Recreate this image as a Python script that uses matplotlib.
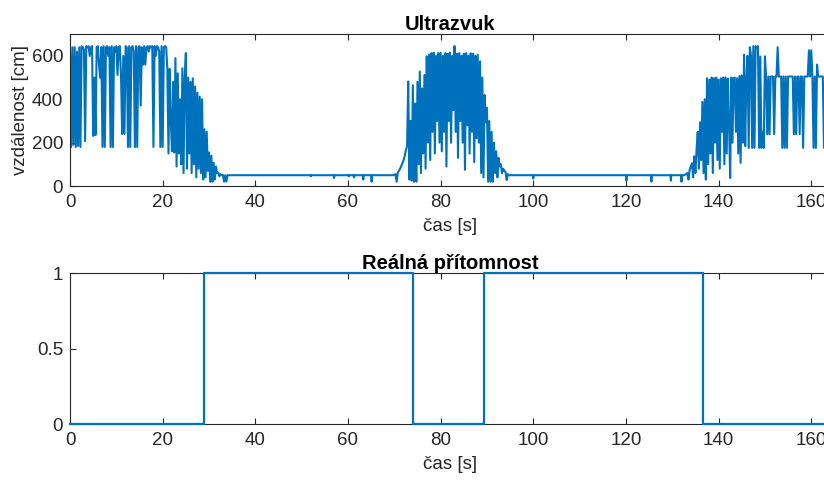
import matplotlib
matplotlib.use("Agg")
import matplotlib.pyplot as plt
import numpy as np

plt.rcParams["font.family"] = ["Liberation Sans", "DejaVu Sans"]

# ------------------------------------------------------------------------------------------------------------------
# ultrazvuk - noisy parts sampled every 0.25 s, flat parts as (t, v) points
step = 0.25

seg_a_start = 0.0
seg_a = [
    620, 180, 640, 190,  640, 180, 620, 185,  640, 180, 645, 640,  630, 207, 645, 640,
    645, 600, 640, 645,  231, 500, 235, 640,  645, 560, 500, 640,  180, 645, 180, 640,
    645, 600, 640, 180,  645, 180, 640, 620,  645, 512, 640, 645,  512, 240, 600, 240,
    645, 640, 180, 645,  180, 640, 645, 620,  180, 645, 180, 640,  645, 371, 640, 560,
    645, 560, 640, 645,  620, 645, 640, 645,  180, 645, 600, 645,  640, 620, 180, 645,
    180, 640, 645, 640,  543, 150, 540, 300,  160, 480, 155, 590,  90, 520, 150, 400,
    100, 543, 60, 500,   613, 80, 500, 150,   480, 60, 497, 100,   459, 40, 430, 80,
    412, 60, 400, 30,    262, 40, 250, 70,    155, 20, 140, 20,    108, 30, 90, 60,
    61, 45, 55, 50,      52, 20, 50, 20,
]

flat_ab_t = [34.0, 51.9, 52.0, 52.1, 56.9, 57.0, 57.1, 60.1, 60.2, 60.3, 61.2, 61.3, 61.4,
             63.2, 63.3, 63.4, 65.0, 65.1, 65.2, 69.5]
flat_ab_v = [50, 50, 45, 50, 50, 37, 50, 50, 45, 50, 50, 40, 50, 50, 30, 50, 50, 20, 50, 50]

seg_b_start = 69.75
seg_b = [
    50,
    52, 55, 20, 62,      70, 80, 92, 105,     120, 140, 165, 184,
    482, 30, 300, 25,    465, 20, 380, 20,    481, 100, 528, 60,   450, 150, 512, 80,
    598, 200, 606, 120,  613, 250, 615, 150,  600, 300, 613, 200,  615, 160, 600, 250,
    613, 90, 610, 300,   615, 200, 600, 350,  645, 250, 610, 130,  613, 300, 600, 200,
    610, 75, 613, 280,   600, 150, 612, 250,  610, 110, 600, 220,  605, 200, 575, 60,
    500, 40, 420, 294,   360, 20, 300, 20,    250, 20, 200, 60,    160, 40, 130, 90,
    100, 60, 80, 70,     65, 28, 55, 50,      50, 50, 50, 50,
]

flat_bc_t = [96.0, 99.9, 100.0, 100.1, 120.0, 120.1, 120.2, 125.4, 125.5, 125.6,
             129.6, 129.7, 129.8, 131.9, 132.0, 132.1, 132.25]
flat_bc_v = [50, 50, 35, 50, 50, 25, 50, 50, 20, 50, 50, 25, 50, 50, 20, 50, 50]

seg_c_start = 132.5
seg_c = [
    50, 52, 55, 60,      30, 75, 90, 105,     40, 137, 60, 170,    250, 80, 294, 120,
    388, 60, 400, 30,    497, 100, 490, 150,  500, 60, 497, 200,   500, 120, 490, 80,
    497, 250, 500, 100,  500, 150, 495, 300,  37, 500, 200, 497,   500, 250, 497, 150,
    507, 107, 510, 200,  606, 184, 500, 600,  176, 640, 600, 176,  645, 176, 645, 640,
    645, 176, 597, 176,  250, 176, 598, 505,  239, 505, 239, 505,  505, 505, 239, 505,
    505, 640, 505, 505,  505, 176, 505, 176,  505, 176, 505, 505,  505, 505, 505, 239,
    505, 239, 505, 505,  239, 505, 505, 176,  505, 505, 505, 505,  626, 505, 626, 505,
    176, 505, 176, 560,  505, 505, 505, 505,  505, 176, 505, 505,  505, 505,
]

# realna pritomnost - change times
presence_t = [0, 29.0, 74.0, 89.3, 136.6, 164.0]
presence_v = [0, 1, 0, 1, 0, 0]

# ------------------------------------------------------------------------------------------------------------------
t_a = seg_a_start + step * np.arange(len(seg_a))
t_b = seg_b_start + step * np.arange(len(seg_b))
t_c = seg_c_start + step * np.arange(len(seg_c))

t_us = np.concatenate([t_a, flat_ab_t, t_b, flat_bc_t, t_c])
v_us = np.concatenate([seg_a, flat_ab_v, seg_b, flat_bc_v, seg_c])

line_color = "#0072BD"
axis_color = "#262626"
fs = 13.5
fs_title = 14.5

fig = plt.figure(figsize=(8.24, 4.82), dpi=100)
ax1 = fig.add_axes([0.085, 0.614, 0.922, 0.315])
ax2 = fig.add_axes([0.085, 0.120, 0.922, 0.313])


def style(ax):
    for s in ax.spines.values():
        s.set_color(axis_color)
        s.set_linewidth(0.8)
    ax.tick_params(direction="in", top=True, right=True, length=4, width=0.8,
                   colors=axis_color, labelsize=fs)
    ax.tick_params(axis="x", pad=6)
    ax.tick_params(axis="y", pad=5)
    ax.set_xticks(np.arange(0, 161, 20))
    ax.set_xlim(0, 164)
    ax.set_xlabel("čas [s]", fontsize=fs, color=axis_color, labelpad=5)


ax1.plot(t_us, v_us, color=line_color, linewidth=1.5)
style(ax1)
ax1.set_ylim(0, 700)
ax1.set_yticks([0, 200, 400, 600])
ax1.set_ylabel("vzdálenost [cm]", fontsize=fs, color=axis_color, labelpad=2)
ax1.set_title("Ultrazvuk", fontsize=fs_title, fontweight="bold", pad=3)

ax2.plot(presence_t, presence_v, color=line_color, linewidth=1.6, drawstyle="steps-post",
         clip_on=False, zorder=3)
style(ax2)
ax2.set_ylim(0, 1)
ax2.set_yticks([0, 0.5, 1])
ax2.set_yticklabels(["0", "0.5", "1"])
ax2.set_title("Reálná přítomnost", fontsize=fs_title, fontweight="bold", pad=3)

fig.savefig("out.png", dpi=100)
